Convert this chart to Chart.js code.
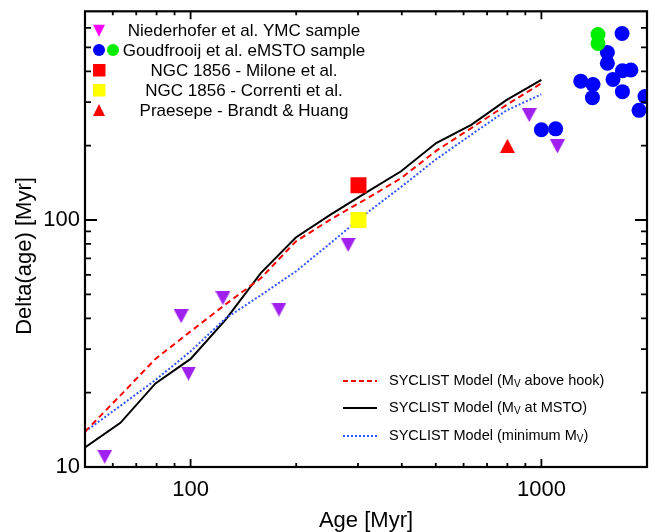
<!DOCTYPE html>
<html><head><meta charset="utf-8">
<script src="https://cdn.jsdelivr.net/npm/chart.js@4/dist/chart.umd.min.js"></script>
<style>html,body{margin:0;padding:0;background:#fff}</style>
</head><body>
<canvas id="c" width="659" height="532" style="display:block;width:659px;height:532px"></canvas>
<script>
// ---- data ----
const niedAge   = [56.9, 94.0, 98.6, 123.6, 178.6, 281.3, 923, 1111];
const niedDelta = [11.0, 40.8, 23.9, 48.3, 43.4, 79.3, 266, 198.7];

const goudBlueAge   = [1000, 1098, 1295, 1403, 1398, 1542, 1542, 1600, 1702, 1799, 1698, 1702, 1898, 1974];
const goudBlueDelta = [232, 234, 365, 354, 313, 477, 431, 371, 402, 405, 569, 331, 278, 316];
const goudGreenAge   = [1450, 1450];
const goudGreenDelta = [564, 519];

const miloneAge = [301], miloneDelta = [138.4];
const correntiAge = [301], correntiDelta = [100];
const praesepeAge = [800], praesepeDelta = [199.7];

const modelAge   = [50, 63.1, 79.4, 100, 125.9, 158.5, 199.5, 251.2, 316.2, 398.1, 501.2, 631.0, 794.3, 1000];
const hookDelta  = [13.9, 19.5, 27.4, 35.4, 45.6, 58.1, 81.9, 100.7, 121.5, 147.7, 190.6, 235.6, 292, 357.8];
const mstoDelta  = [12.0, 15.1, 21.8, 27.4, 39.5, 61.0, 85.0, 105.4, 129, 157.6, 205, 243, 306, 369];
const minDelta   = [13.9, 17.7, 22.5, 29.4, 40.0, 49.6, 61.9, 80.9, 106.2, 136.1, 176.2, 221.6, 277.6, 323];

const xTickVals = [60,70,80,90,100,200,300,400,500,600,700,800,900,1000];
const xMajor = [100,1000];
const yTickVals = [20,30,40,50,60,70,80,90,100,200,300,400,500,600];
const yMajor = [10,100];

const topLegend = ['Niederhofer et al. YMC sample','Goudfrooij et al. eMSTO sample','NGC 1856 - Milone et al.','NGC 1856 - Correnti et al.','Praesepe - Brandt & Huang'];
const lineLegend = [['SYCLIST Model (M','V',' above hook)'],['SYCLIST Model (M','V',' at MSTO)'],['SYCLIST Model (minimum M','V',')']];

const FONT = "'Liberation Sans', Arial, Helvetica, sans-serif";
const PURPLE = '#a020f0', BLUE='#0000ff', GREEN='#00ee00', RED='#ff0000', YELLOW='#ffff00', LBLUE='#3355ff';

function pts(xs, ys){ return xs.map((v,i)=>({x:v, y:ys[i]})); }
function triCanvas(w,h,color,down){
  const c=document.createElement('canvas'); c.width=w; c.height=h;
  const g=c.getContext('2d'); g.fillStyle=color; g.beginPath();
  if(down){ g.moveTo(0,0); g.lineTo(w,0); g.lineTo(w/2,h); }
  else { g.moveTo(w/2,0); g.lineTo(w,h); g.lineTo(0,h); }
  g.closePath(); g.fill(); return c;
}
const triDown = triCanvas(15,14,PURPLE,true);
const triUp = triCanvas(15,14,RED,false);

function drawTri(ctx,x,y,w,h,color,down){
  ctx.fillStyle=color; ctx.beginPath();
  if(down){ctx.moveTo(x-w/2,y-h/2);ctx.lineTo(x+w/2,y-h/2);ctx.lineTo(x,y+h/2);}
  else {ctx.moveTo(x,y-h/2);ctx.lineTo(x+w/2,y+h/2);ctx.lineTo(x-w/2,y+h/2);}
  ctx.closePath(); ctx.fill();
}

const decor = {
  id:'decor',
  afterDraw(chart){
    const {ctx, chartArea:a, scales:{x,y}} = chart;
    ctx.save();
    // frame + inward ticks
    ctx.strokeStyle='#000'; ctx.lineWidth=2.2;
    ctx.strokeRect(a.left, a.top, a.right-a.left, a.bottom-a.top);
    ctx.lineWidth=1.8; ctx.beginPath();
    xTickVals.forEach(v=>{
      const px=x.getPixelForValue(v), L=xMajor.includes(v)?8:4;
      ctx.moveTo(px,a.bottom); ctx.lineTo(px,a.bottom-L);
      ctx.moveTo(px,a.top); ctx.lineTo(px,a.top+L);
    });
    yTickVals.forEach(v=>{
      const py=y.getPixelForValue(v), L=yMajor.includes(v)?12:6;
      ctx.moveTo(a.left,py); ctx.lineTo(a.left+L,py);
      ctx.moveTo(a.right,py); ctx.lineTo(a.right-L,py);
    });
    ctx.stroke();

    // y title
    ctx.fillStyle='#000';
    ctx.save(); ctx.translate(25,256); ctx.rotate(-Math.PI/2);
    ctx.font="22px "+FONT; ctx.textAlign='center'; ctx.textBaseline='middle';
    ctx.fillText('Delta(age) [Myr]',0,0); ctx.restore();

    // top legend
    const rows=[30.7,50,70,90,110];
    drawTri(ctx,99,rows[0],12,12,'#ff00ff',true);
    ctx.fillStyle=BLUE; ctx.beginPath(); ctx.arc(99,rows[1],6,0,Math.PI*2); ctx.fill();
    ctx.fillStyle=GREEN; ctx.beginPath(); ctx.arc(113,rows[1],6,0,Math.PI*2); ctx.fill();
    ctx.fillStyle=RED; ctx.fillRect(93,rows[2]-6,12.5,12.5);
    ctx.fillStyle=YELLOW; ctx.fillRect(93,rows[3]-6,12.5,12.5);
    drawTri(ctx,99,rows[4],12,12,RED,false);
    ctx.fillStyle='#000'; ctx.font="17px "+FONT; ctx.textAlign='center'; ctx.textBaseline='middle';
    topLegend.forEach((t,i)=>ctx.fillText(t,244,rows[i]+1));

    // bottom-right line legend
    const lrows=[381,408,436];
    const styles=[{c:RED,d:[5,3]},{c:'#000',d:[]},{c:LBLUE,d:[2,2]}];
    lrows.forEach((ry,i)=>{
      ctx.strokeStyle=styles[i].c; ctx.lineWidth=2; ctx.setLineDash(styles[i].d);
      ctx.beginPath(); ctx.moveTo(343,ry); ctx.lineTo(377,ry); ctx.stroke();
      ctx.setLineDash([]);
      let tx=389; ctx.textAlign='left'; ctx.textBaseline='middle'; ctx.fillStyle='#000';
      const [p1,sub,p2]=lineLegend[i];
      ctx.font="14.5px "+FONT; ctx.fillText(p1,tx,ry); tx+=ctx.measureText(p1).width;
      ctx.font="10px "+FONT; ctx.fillText(sub,tx,ry+3); tx+=ctx.measureText(sub).width;
      ctx.font="14.5px "+FONT; ctx.fillText(p2,tx,ry);
    });
    ctx.restore();
  }
};

const lineDS = (data,color,dash,width)=>({type:'line', data, borderColor:color, borderWidth:width, borderDash:dash, pointRadius:0, fill:false, tension:0, showLine:true});

new Chart(document.getElementById('c'), {
  type:'scatter',
  data:{datasets:[
    {data:pts(goudGreenAge,goudGreenDelta), pointStyle:'circle', pointRadius:7.5, backgroundColor:GREEN, borderWidth:0},
    {data:pts(praesepeAge,praesepeDelta), pointStyle:triUp, backgroundColor:RED},
    {data:pts(miloneAge,miloneDelta), pointStyle:'rect', pointRadius:11.3, backgroundColor:RED, borderWidth:0},
    {data:pts(correntiAge,correntiDelta), pointStyle:'rect', pointRadius:11.3, backgroundColor:YELLOW, borderWidth:0},
    {data:pts(goudBlueAge,goudBlueDelta), pointStyle:'circle', pointRadius:7.5, backgroundColor:BLUE, borderWidth:0},
    {data:pts(niedAge,niedDelta), pointStyle:triDown, backgroundColor:PURPLE},
    lineDS(pts(modelAge,hookDelta),RED,[6,4],2),
    lineDS(pts(modelAge,minDelta),LBLUE,[2,2],2),
    lineDS(pts(modelAge,mstoDelta),'#000',[],2),
  ]},
  options:{
    responsive:false, animation:false, devicePixelRatio:1,
    layout:{padding:{top:9,right:12,left:0,bottom:0}},
    plugins:{legend:{display:false}, tooltip:{enabled:false}},
    scales:{
      x:{type:'logarithmic', min:50, max:2000,
        afterBuildTicks:s=>{s.ticks=xMajor.map(v=>({value:v}));},
        afterFit:s=>{s.height=65; s.paddingLeft=0; s.paddingRight=0;},
        grid:{display:false, drawTicks:false}, border:{display:false},
        ticks:{color:'#000', font:{size:22, family:FONT}, padding:10, maxRotation:0, autoSkip:false, callback:v=>String(v)},
        title:{display:true, text:'Age [Myr]', color:'#000', font:{size:22, family:FONT}, padding:{top:0,bottom:-2}}
      },
      y:{type:'logarithmic', min:10, max:700,
        afterBuildTicks:s=>{s.ticks=yMajor.map(v=>({value:v}));},
        afterFit:s=>{s.width=85; s.paddingTop=0; s.paddingBottom=0;},
        grid:{display:false, drawTicks:false}, border:{display:false},
        ticks:{color:'#000', font:{size:22, family:FONT}, padding:5, autoSkip:false, callback:v=>String(v)}
      }
    }
  },
  plugins:[decor]
});
</script>
</body></html>
